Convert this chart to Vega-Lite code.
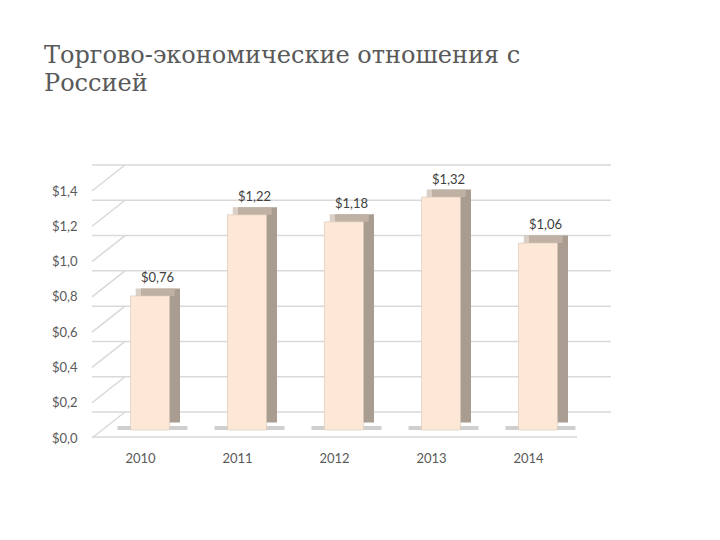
{
  "$schema": "https://vega.github.io/schema/vega-lite/v6.json",
  "width": 485,
  "height": 247,
  "autosize": {"type": "none"},
  "padding": {"left": 92, "top": 183, "right": 143, "bottom": 110},
  "background": "#ffffff",
  "config": {
    "view": {"stroke": null},
    "locale": {"number": {"decimal": ",", "thousands": " ", "grouping": [3], "currency": ["$", ""]}},
    "axis": {"labelFont": "Lato", "labelFontSize": 13, "labelColor": "#595959", "domain": false, "ticks": false, "tickSize": 0, "grid": false, "title": null, "labelOverlap": false, "labelFlush": false, "labelBound": false}
  },
  "title": {
    "text": ["Торгово-экономические отношения с", "Россией"],
    "anchor": "start",
    "frame": "group",
    "orient": "top",
    "font": "DejaVu Serif",
    "fontSize": 24,
    "fontWeight": "normal",
    "color": "#595959",
    "lineHeight": 28,
    "dx": -48,
    "offset": 68
  },
  "datasets": {
    "trade": [
      {"year": "2010", "value": 0.76},
      {"year": "2011", "value": 1.22},
      {"year": "2012", "value": 1.18},
      {"year": "2013", "value": 1.32},
      {"year": "2014", "value": 1.06}
    ],
    "grid": [{"v": 0}, {"v": 0.2}, {"v": 0.4}, {"v": 0.6}, {"v": 0.8}, {"v": 1.0}, {"v": 1.2}, {"v": 1.4}]
  },
  "layer": [
    {
      "data": {"name": "grid"},
      "mark": {"type": "rule", "color": "#d9d9d9", "strokeWidth": 1.5, "yOffset": -18, "xOffset": 34, "x2Offset": 34},
      "encoding": {
        "y": {
          "field": "v", "type": "quantitative",
          "scale": {"domain": [0, 1.4], "nice": false, "zero": true},
          "axis": {"values": [0, 0.2, 0.4, 0.6, 0.8, 1, 1.2, 1.4], "format": "$.1f", "labelPadding": 15, "labelOffset": 8, "labelOverlap": false}
        }
      }
    },
    {
      "data": {"name": "grid"},
      "mark": {"type": "rule", "color": "#d9d9d9", "strokeWidth": 1.5, "yOffset": 8, "y2Offset": -18, "x2Offset": 33},
      "encoding": {
        "y": {"field": "v", "type": "quantitative", "axis": {"values": [0, 0.2, 0.4, 0.6, 0.8, 1, 1.2, 1.4], "format": "$.1f", "labelPadding": 15, "labelOffset": 8, "labelOverlap": false}},
        "y2": {"field": "v"},
        "x": {"value": 0},
        "x2": {"value": 0}
      }
    },
    {
      "data": {"values": [{}]},
      "mark": {"type": "rule", "color": "#d9d9d9", "strokeWidth": 1.5, "yOffset": 7},
      "encoding": {"y": {"datum": 0, "type": "quantitative", "axis": {"values": [0, 0.2, 0.4, 0.6, 0.8, 1, 1.2, 1.4], "format": "$.1f", "labelPadding": 15, "labelOffset": 8, "labelOverlap": false}}}
    },
    {
      "data": {"name": "trade"},
      "mark": {"type": "tick", "color": "#a0a0a0", "opacity": 0.5, "size": 70, "thickness": 4, "xOffset": 12, "yOffset": -2},
      "encoding": {
        "x": {"field": "year", "type": "nominal", "axis": {"labelAngle": 0, "labelPadding": 22}},
        "y": {"datum": 0, "type": "quantitative", "axis": {"values": [0, 0.2, 0.4, 0.6, 0.8, 1, 1.2, 1.4], "format": "$.1f", "labelPadding": 15, "labelOffset": 8, "labelOverlap": false}}
      }
    },
    {
      "data": {"name": "trade"},
      "mark": {"type": "bar", "color": "#a99d91", "xOffset": 20, "x2Offset": 20, "yOffset": -7.5, "y2Offset": -7.5},
      "encoding": {
        "x": {"field": "year", "type": "nominal", "scale": {"paddingInner": 0.598, "paddingOuter": 0.299}, "axis": {"labelAngle": 0, "labelPadding": 22}},
        "y": {"field": "value", "type": "quantitative", "axis": {"values": [0, 0.2, 0.4, 0.6, 0.8, 1, 1.2, 1.4], "format": "$.1f", "labelPadding": 15, "labelOffset": 8, "labelOverlap": false}}
      }
    },
    {
      "data": {"name": "trade"},
      "mark": {"type": "tick", "color": "#c9bbad", "size": 39, "thickness": 7.5, "xOffset": 14.75, "yOffset": -3.75},
      "encoding": {
        "x": {"field": "year", "type": "nominal", "axis": {"labelAngle": 0, "labelPadding": 22}},
        "y": {"field": "value", "type": "quantitative", "axis": {"values": [0, 0.2, 0.4, 0.6, 0.8, 1, 1.2, 1.4], "format": "$.1f", "labelPadding": 15, "labelOffset": 8, "labelOverlap": false}}
      }
    },
    {
      "data": {"name": "trade"},
      "mark": {"type": "bar", "color": "#fde8d7", "stroke": "#d9c6b5", "strokeWidth": 0.6, "xOffset": 9.5, "x2Offset": 9.5},
      "encoding": {
        "x": {"field": "year", "type": "nominal", "axis": {"labelAngle": 0, "labelPadding": 22}},
        "y": {"field": "value", "type": "quantitative", "axis": {"values": [0, 0.2, 0.4, 0.6, 0.8, 1, 1.2, 1.4], "format": "$.1f", "labelPadding": 15, "labelOffset": 8, "labelOverlap": false}}
      }
    },
    {
      "data": {"name": "trade"},
      "mark": {"type": "text", "dx": 17, "dy": -17.5, "baseline": "middle", "align": "center", "font": "Lato", "fontSize": 13, "color": "#404040"},
      "encoding": {
        "x": {"field": "year", "type": "nominal", "axis": {"labelAngle": 0, "labelPadding": 22}},
        "y": {"field": "value", "type": "quantitative", "axis": {"values": [0, 0.2, 0.4, 0.6, 0.8, 1, 1.2, 1.4], "format": "$.1f", "labelPadding": 15, "labelOffset": 8, "labelOverlap": false}},
        "text": {"field": "value", "type": "quantitative", "format": "$.2f"}
      }
    }
  ]
}
